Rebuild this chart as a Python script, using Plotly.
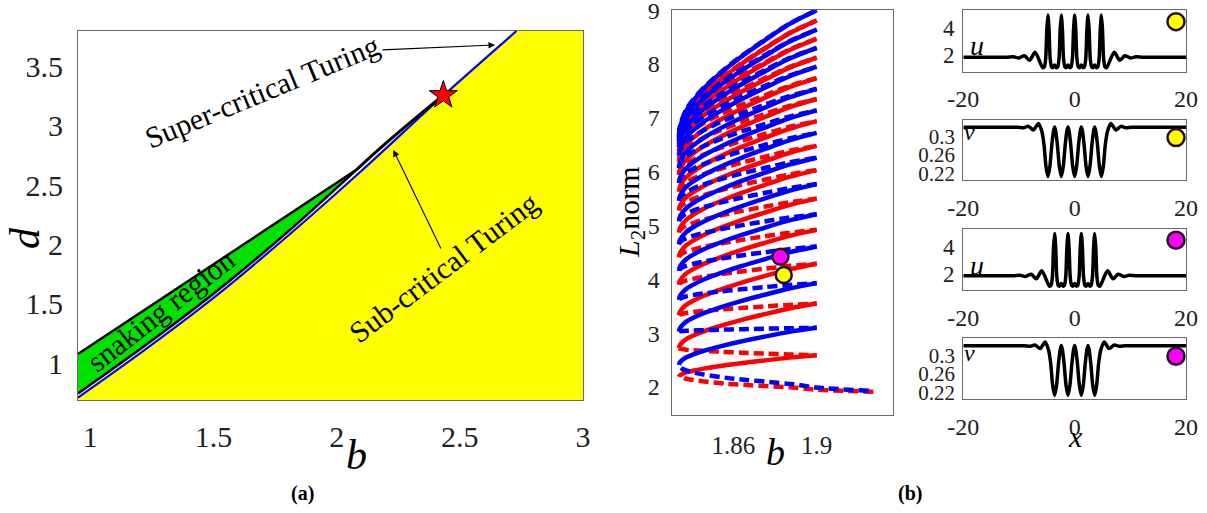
import plotly.graph_objects as go

W, H = 1207, 513
FONT = "Liberation Serif"

# ---------------- Panel (a): parameter plane ----------------
TURING_B = [0.95, 1.2, 1.5, 1.8, 2.1, 2.43, 2.73]
TURING_D = [0.71, 1.08, 1.55, 2.07, 2.62, 3.25, 3.80]
SNAKE_UPPER_B = [0.95, 1.3, 1.7, 2.08]
SNAKE_UPPER_D = [1.078, 1.56, 2.11, 2.63]
SNAKE_LOWER_B = [0.95, 1.2, 1.5, 1.8, 2.08]
SNAKE_LOWER_D = [0.745, 1.115, 1.585, 2.105, 2.63]
CODIM2_B = [2.08, 2.22, 2.433]
CODIM2_D = [2.63, 2.89, 3.259]
STAR_B = [2.433]
STAR_D = [3.259]
A_XRANGE = [0.95, 3.0]
A_YRANGE = [0.69, 3.80]

# ---------------- Panel (b): snaking branches ----------------
FOLD_B = 1.834
END_B = 1.9
RED_FOLDS = [2.19, 2.72, 3.33, 3.90, 4.41, 4.87, 5.28, 5.63, 5.94, 6.19, 6.39, 6.52, 6.61, 6.64]
RED_ENDS = [2.59, 3.55, 4.29, 4.92, 5.50, 6.03, 6.48, 6.94, 7.35, 7.74, 8.12, 8.47, 8.81]
BLUE_FOLDS = [2.41, 3.03, 3.62, 4.16, 4.65, 5.08, 5.46, 5.79, 6.07, 6.30, 6.46, 6.57, 6.65, 6.68]
BLUE_ENDS = [3.10, 3.93, 4.61, 5.21, 5.77, 6.26, 6.72, 7.14, 7.54, 7.95, 8.30, 8.64, 9.0]
# normalised branch shape (fraction of b-span, fraction of rise)
SHAPE_T = [0, 0.005, 0.02, 0.05, 0.1, 0.18, 0.3, 0.45, 0.62, 0.8, 1.0]
SHAPE_S = [0, 0.06, 0.12, 0.2, 0.28, 0.38, 0.5, 0.63, 0.76, 0.89, 1.0]
RED_BOTTOM_B = [1.9271, 1.9, 1.8888, 1.8568, 1.8408, 1.8365, 1.8355]
RED_BOTTOM_L = [1.91, 1.95, 1.99, 2.06, 2.13, 2.165, 2.19]
BLUE_BOTTOM_B = [1.925, 1.9, 1.8888, 1.8568, 1.8408, 1.8355, 1.8336]
BLUE_BOTTOM_L = [1.93, 1.99, 2.05, 2.17, 2.27, 2.34, 2.41]
MAG_PT = (1.8826, 4.42)
YEL_PT = (1.8842, 4.08)

# ---------------- Profiles ----------------
U_BASE = 1.83
V_BASE = 0.3205
YELLOW_CENTERS = [-4.8, -2.4, 0.0, 2.4, 4.8]
MAGENTA_CENTERS = [-3.6, -1.2, 1.2, 3.6]
U_PEAK_DX = [-0.65, -0.4, -0.2, 0.0, 0.2, 0.4, 0.65]
U_PEAK_Y = [1.1, 1.75, 3.9, 5.0, 3.9, 1.75, 1.1]
U_GAP_DX = [0.9, 1.2, 1.5]
U_GAP_Y = [1.05, 1.25, 1.05]
U_TAIL_DX = [0.95, 2.3, 3.3, 4.2, 5.2, 6.2, 7.5]
U_TAIL_Y = [1.05, 2.2, 1.6, 1.95, 1.78, 1.86, 1.83]
V_TROUGH_DX = [-0.7, -0.35, 0.0, 0.35, 0.7]
V_TROUGH_Y = [0.282, 0.235, 0.213, 0.235, 0.282]
V_GAP_DX = [1.0, 1.2, 1.4]
V_GAP_Y = [0.312, 0.321, 0.312]
V_TAIL_DX = [1.1, 1.7, 2.6, 3.5, 4.4, 5.4, 6.5]
V_TAIL_Y = [0.312, 0.329, 0.3146, 0.3225, 0.3195, 0.3208, 0.3205]
U_RANGE = [0.76, 5.38]
V_RANGE = [0.2054, 0.3375]
PROFILE_MARK_X = 18.2
MARK_U = 4.5
MARK_V = 0.298


def build_profile(centers, pdx, py, gdx, gy, tdx, ty, base):
    xs, ys = [-20.0], [base]
    first, last = centers[0], centers[-1]
    for d, v in zip(reversed(tdx), reversed(ty)):
        xs.append(first - d)
        ys.append(v)
    for i, c in enumerate(centers):
        for d, v in zip(pdx, py):
            xs.append(c + d)
            ys.append(v)
        if i < len(centers) - 1:
            for d, v in zip(gdx, gy):
                xs.append(c + d)
                ys.append(v)
    for d, v in zip(tdx, ty):
        xs.append(last + d)
        ys.append(v)
    xs.append(20.0)
    ys.append(base)
    return xs, ys


def branch(F, R):
    bs = [FOLD_B + t * (END_B - FOLD_B) for t in SHAPE_T]
    ls = [F + (R - F) * s for s in SHAPE_S]
    return bs, ls


def collect(folds, ends, dashed):
    X, Y = [], []
    for k, R in enumerate(ends):
        F = folds[k + 1] if dashed else folds[k]
        bs, ls = branch(F, R)
        X += bs + [None]
        Y += ls + [None]
    return X, Y


fig = go.Figure()

# ---- panel (a) ----
fig.add_trace(go.Scatter(x=TURING_B + [A_XRANGE[1], A_XRANGE[1], A_XRANGE[0]],
                         y=TURING_D + [A_YRANGE[1], A_YRANGE[0], A_YRANGE[0]],
                         fill="toself", fillcolor="#ffff00", line=dict(width=0),
                         mode="lines", hoverinfo="skip", xaxis="x", yaxis="y"))
fig.add_trace(go.Scatter(x=SNAKE_UPPER_B + SNAKE_LOWER_B[::-1],
                         y=SNAKE_UPPER_D + SNAKE_LOWER_D[::-1],
                         fill="toself", fillcolor="#00e100", line=dict(width=0),
                         mode="lines", xaxis="x", yaxis="y"))
fig.add_trace(go.Scatter(x=TURING_B, y=TURING_D, mode="lines", line_shape="spline",
                         line=dict(color="#0000ff", width=2.2), xaxis="x", yaxis="y"))
fig.add_trace(go.Scatter(x=SNAKE_UPPER_B, y=SNAKE_UPPER_D, mode="lines",
                         line=dict(color="black", width=2.5), xaxis="x", yaxis="y"))
fig.add_trace(go.Scatter(x=SNAKE_LOWER_B, y=SNAKE_LOWER_D, mode="lines", line_shape="spline",
                         line=dict(color="black", width=2.5), xaxis="x", yaxis="y"))
fig.add_trace(go.Scatter(x=CODIM2_B, y=CODIM2_D, mode="lines", line_shape="spline",
                         line=dict(color="black", width=3), xaxis="x", yaxis="y"))
fig.add_trace(go.Scatter(x=STAR_B, y=STAR_D, mode="markers",
                         marker=dict(symbol="star", size=21, color="#ff0000",
                                     line=dict(color="black", width=1)),
                         xaxis="x", yaxis="y"))

# ---- panel (b) snaking ----
DASH = "10px,5px"
for folds, ends, bb, bl, col in [(RED_FOLDS, RED_ENDS, RED_BOTTOM_B, RED_BOTTOM_L, "#ff0000"),
                                 (BLUE_FOLDS, BLUE_ENDS, BLUE_BOTTOM_B, BLUE_BOTTOM_L, "#0000ff")]:
    dx, dy = collect(folds, ends, True)
    dx += bb
    dy += bl
    fig.add_trace(go.Scatter(x=dx, y=dy, mode="lines", line_shape="spline",
                             line=dict(color=col, width=4.5, dash=DASH, smoothing=0.8),
                             xaxis="x2", yaxis="y2", connectgaps=False))
    sx, sy = collect(folds, ends, False)
    fig.add_trace(go.Scatter(x=sx, y=sy, mode="lines", line_shape="spline",
                             line=dict(color=col, width=4.5, smoothing=0.8),
                             xaxis="x2", yaxis="y2", connectgaps=False))

MARK_LINE = dict(color="#2b0b2b", width=2.5)
fig.add_trace(go.Scatter(x=[MAG_PT[0]], y=[MAG_PT[1]], mode="markers",
                         marker=dict(size=16, color="#ff00ff", line=MARK_LINE),
                         xaxis="x2", yaxis="y2"))
fig.add_trace(go.Scatter(x=[YEL_PT[0]], y=[YEL_PT[1]], mode="markers",
                         marker=dict(size=16, color="#ffff00", line=MARK_LINE),
                         xaxis="x2", yaxis="y2"))

# ---- profiles ----
profiles = [
    (build_profile(YELLOW_CENTERS, U_PEAK_DX, U_PEAK_Y, U_GAP_DX, U_GAP_Y, U_TAIL_DX, U_TAIL_Y, U_BASE), "3", MARK_U, "#ffff00"),
    (build_profile(YELLOW_CENTERS, V_TROUGH_DX, V_TROUGH_Y, V_GAP_DX, V_GAP_Y, V_TAIL_DX, V_TAIL_Y, V_BASE), "4", MARK_V, "#ffff00"),
    (build_profile(MAGENTA_CENTERS, U_PEAK_DX, U_PEAK_Y, U_GAP_DX, U_GAP_Y, U_TAIL_DX, U_TAIL_Y, U_BASE), "5", MARK_U, "#ff00ff"),
    (build_profile(MAGENTA_CENTERS, V_TROUGH_DX, V_TROUGH_Y, V_GAP_DX, V_GAP_Y, V_TAIL_DX, V_TAIL_Y, V_BASE), "6", MARK_V, "#ff00ff"),
]
for (px_, py_), n, my, mc in profiles:
    fig.add_trace(go.Scatter(x=px_, y=py_, mode="lines", line_shape="spline",
                             line=dict(color="black", width=3.5, smoothing=0.7),
                             xaxis="x" + n, yaxis="y" + n))
    fig.add_trace(go.Scatter(x=[PROFILE_MARK_X], y=[my], mode="markers", cliponaxis=False,
                             marker=dict(size=17, color=mc, line=MARK_LINE),
                             xaxis="x" + n, yaxis="y" + n))


def dom_x(a, b):
    return [a / W, b / W]


def dom_y(top, bottom):
    return [1 - bottom / H, 1 - top / H]


FRAME = dict(showline=True, mirror=True, linecolor="#6a6a6a", linewidth=1.2,
             showgrid=False, zeroline=False, ticks="", fixedrange=True,
             ticklabeloverflow="allow", automargin=False)
TICKC = "#222222"

layout = dict(
    width=W, height=H, margin=dict(l=0, r=0, t=0, b=0, autoexpand=False),
    paper_bgcolor="white", plot_bgcolor="white", showlegend=False,
    font=dict(family=FONT, color="black"),
    xaxis=dict(domain=dom_x(78, 583), range=A_XRANGE, tickvals=[1, 1.5, 2, 2.5, 3],
               ticktext=["1", "1.5", "2", "2.5", "3"],
               tickfont=dict(size=30, color=TICKC), ticklabelstandoff=10, anchor="y", **FRAME),
    yaxis=dict(domain=dom_y(31, 400), range=A_YRANGE, tickvals=[1, 1.5, 2, 2.5, 3, 3.5],
               ticktext=["1", "1.5", "2", "2.5", "3", "3.5"],
               tickfont=dict(size=30, color=TICKC), ticklabelstandoff=8, anchor="x", **FRAME),
    xaxis2=dict(domain=dom_x(671.7, 893.3), range=[1.8305, 1.9367], tickvals=[1.86, 1.9],
                ticktext=["1.86", "1.9"], tickfont=dict(size=25, color=TICKC),
                ticklabelstandoff=8, anchor="y2", **FRAME),
    yaxis2=dict(domain=dom_y(10, 415), range=[1.48, 9.004], tickvals=[2, 3, 4, 5, 6, 7, 8, 9],
                ticktext=["2", "3", "4", "5", "6", "7", "8", "9"],
                tickfont=dict(size=24, color=TICKC), ticklabelstandoff=6, anchor="x2", **FRAME),
)
panel_tops = {"3": (10, 71.5), "4": (119.5, 180), "5": (228.5, 290), "6": (338, 399)}
for n, (t, b) in panel_tops.items():
    isu = n in ("3", "5")
    layout["xaxis" + n] = dict(domain=dom_x(963.3, 1186), range=[-20, 20], tickvals=[-20, 0, 20],
                               ticktext=["-20", "0", "20"], tickfont=dict(size=24, color=TICKC),
                               ticklabelstandoff=6, anchor="y" + n, **FRAME)
    layout["yaxis" + n] = dict(domain=dom_y(t, b), range=U_RANGE if isu else V_RANGE,
                               tickvals=[2, 4] if isu else [0.22, 0.26, 0.3],
                               ticktext=["2", "4"] if isu else ["0.22", "0.26", "0.3"],
                               tickfont=dict(size=23 if isu else 21, color=TICKC),
                               ticklabelstandoff=3, anchor="x" + n, **FRAME)
fig.update_layout(**layout)

ann = []


def paper_text(x, y, text, size, angle=0, italic=False):
    t = "<i>%s</i>" % text if italic else text
    ann.append(dict(x=x / W, y=1 - y / H, xref="paper", yref="paper", text=t, showarrow=False,
                    textangle=angle, font=dict(size=size, family=FONT, color="black"),
                    xanchor="center", yanchor="middle"))


def data_text(x, y, text, size, angle):
    ann.append(dict(x=x, y=y, xref="x", yref="y", text=text, showarrow=False, textangle=angle,
                    font=dict(size=size, family=FONT, color="black"),
                    xanchor="center", yanchor="middle"))


def arrow(x0, y0, x1, y1):
    ann.append(dict(x=x1, y=y1, ax=x0, ay=y0, xref="x", yref="y", axref="x", ayref="y",
                    text="", showarrow=True, arrowhead=2, arrowsize=1.2, arrowwidth=1.1,
                    arrowcolor="black"))


data_text(1.697, 3.288, "Super-critical Turing", 30, -22.5)
data_text(2.434, 1.803, "Sub-critical Turing", 30, -37)
data_text(1.285, 1.445, "snaking region", 30, -38)
arrow(2.180, 3.640, 2.643, 3.682)
arrow(2.426, 1.954, 2.230, 2.797)

paper_text(25, 238, "d", 42, -90, True)
paper_text(356, 455, "b", 42, 0, True)
paper_text(631, 212, "<i>L</i><sub>2</sub>norm", 30, -90)
paper_text(775, 452, "b", 38, 0, True)
paper_text(977, 45, "u", 28, 0, True)
paper_text(969, 132, "v", 24, 0, True)
paper_text(977, 265, "u", 28, 0, True)
paper_text(969, 353, "v", 24, 0, True)
paper_text(1075, 436, "x", 30, 0, True)
paper_text(302, 493, "<b>(a)</b>", 20)
paper_text(910, 493, "<b>(b)</b>", 20)

fig.update_layout(annotations=ann)
fig.write_html("out.html")
